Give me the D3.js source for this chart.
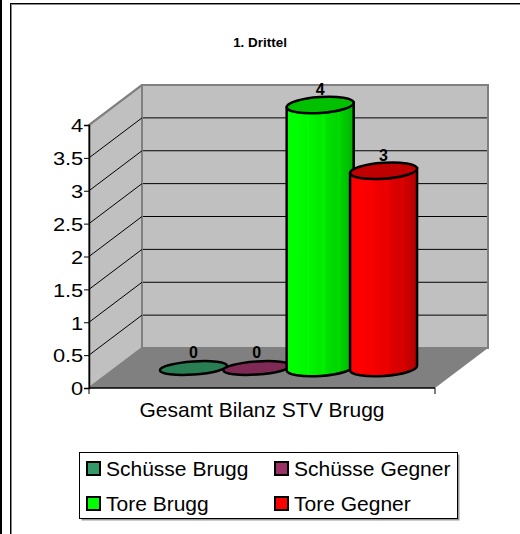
<!DOCTYPE html>
<html>
<head>
<meta charset="utf-8">
<script src="https://cdn.jsdelivr.net/npm/d3@7"></script>
<style>
  body { margin: 0; background: #fff; }
  text { font-family: "Liberation Sans", Arial, sans-serif; }
</style>
</head>
<body>
<div id="chart"></div>
<script>
let width = 520, height = 534;

let categories = ["Gesamt Bilanz STV Brugg"];
let seriesNames = ["Schüsse Brugg", "Schüsse Gegner", "Tore Brugg", "Tore Gegner"];
let seriesValues = [0, 0, 4, 3];
let seriesColors = ["#339966", "#993366", "#00ff00", "#ff0000"];
let yTicks = [0, 0.5, 1, 1.5, 2, 2.5, 3, 3.5, 4];

// depth of the 3d box (back wall offset)
let depthX = 53, depthY = -40;
let tilt = 4; // ellipses lean a little

let y = d3.scaleLinear().domain([0, 4]).range([388, 125]);
let x0 = d3.scaleBand().domain(categories).range([89, 435]);
let x1 = d3.scaleBand().domain(seriesNames)
    .range([0, x0.bandwidth()])
    .paddingInner(0)
    .paddingOuter(0.73);

let svg = d3.select("#chart").append("svg")
    .attr("width", width)
    .attr("height", height);

let defs = svg.append("defs");

// outer frame
svg.append("rect").attr("x", 0).attr("y", 0).attr("width", 2).attr("height", height).attr("fill", "#000");
svg.append("rect").attr("x", 11.5).attr("y", 4.5).attr("width", 600).attr("height", 600)
    .attr("fill", "none").attr("stroke", "#888").attr("stroke-width", 1);
svg.append("rect").attr("x", 10.5).attr("y", 3.5).attr("width", 600).attr("height", 600)
    .attr("fill", "none").attr("stroke", "#000").attr("stroke-width", 1);

// title
svg.append("text")
    .attr("transform", "translate(260,47) scale(1.12,1)")
    .attr("text-anchor", "middle")
    .attr("font-size", 12)
    .attr("font-weight", "bold")
    .text("1. Drittel");

let left = x0.range()[0], right = x0.range()[1];
let y0 = y(0), yTop = y(4);

// floor
svg.append("path")
    .attr("d", `M${left},${y0} L${right},${y0} L${right + depthX},${y0 + depthY} L${left + depthX},${y0 + depthY} Z`)
    .attr("fill", "#808080");

// side wall
svg.append("path")
    .attr("d", `M${left},${y0} L${left},${yTop} L${left + depthX},${yTop + depthY} L${left + depthX},${y0 + depthY} Z`)
    .attr("fill", "#c0c0c0")
    .attr("stroke", "#808080")
    .attr("stroke-width", 2)
    .attr("stroke-linejoin", "round");

// back wall
svg.append("rect")
    .attr("x", left + depthX)
    .attr("y", yTop + depthY)
    .attr("width", right - left)
    .attr("height", y0 - yTop)
    .attr("fill", "#c0c0c0")
    .attr("stroke", "#808080")
    .attr("stroke-width", 2);

// gridlines on back and side walls
let grid = yTicks.filter(d => d > 0);
svg.selectAll(".gridBack").data(grid).enter().append("line")
    .attr("x1", left + depthX + 1).attr("x2", right + depthX - 1)
    .attr("y1", d => y(d) + depthY).attr("y2", d => y(d) + depthY)
    .attr("stroke", d => d == 4 ? "none" : "#000").attr("stroke-width", 1);
svg.selectAll(".gridSide").data(grid).enter().append("line")
    .attr("x1", left).attr("x2", left + depthX)
    .attr("y1", d => y(d)).attr("y2", d => y(d) + depthY)
    .attr("stroke", d => d == 4 ? "#808080" : "#000").attr("stroke-width", d => d == 4 ? 2 : 1);

// floor front edge
svg.append("line").attr("x1", left).attr("x2", right).attr("y1", y0).attr("y2", y0)
    .attr("stroke", "#000").attr("stroke-width", 1.5);
svg.selectAll(".xtick").data([left, right]).enter().append("line")
    .attr("x1", d => d).attr("x2", d => d).attr("y1", y0).attr("y2", y0 + 6)
    .attr("stroke", "#000");

// y axis
let yAxis = svg.append("g")
    .attr("transform", `translate(${left},0)`)
    .call(d3.axisLeft(y).tickValues(yTicks).tickSize(5).tickFormat(d => String(d)));
yAxis.select(".domain").attr("stroke", "#000").attr("stroke-width", 1.5);
yAxis.selectAll(".tick line").attr("stroke", "#000");
yAxis.selectAll(".tick text")
    .attr("font-family", "Liberation Sans, Arial, sans-serif")
    .attr("font-size", 19)
    .attr("fill", "#000")
    .attr("x", -5)
    .attr("dy", "0.36em")
    .attr("transform", "scale(1.15,1)");

// category label
svg.selectAll(".catLabel").data(categories).enter().append("text")
    .attr("x", d => x0(d) + x0.bandwidth() / 2)
    .attr("y", 417)
    .attr("text-anchor", "middle")
    .attr("font-size", 21)
    .text(d => d);

// cylinders
let rad = x1.step() * 0.53, ry = 8;
let a = tilt * Math.PI / 180;

let bars = seriesNames.map((s, i) => ({
    name: s,
    value: seriesValues[i],
    color: seriesColors[i],
    cx: x0(categories[0]) + x1(s) + x1.bandwidth() / 2 + depthX / 2
}));

bars.forEach((b, i) => {
    let grad = defs.append("linearGradient").attr("id", "g" + i)
        .attr("x1", 0).attr("x2", 1).attr("y1", 0).attr("y2", 0);
    let c = d3.color(b.color);
    let stops = [[0, c.brighter(0.15)], [0.1, c], [0.12, c.brighter(0.25)], [0.14, c],
                 [0.3, c.darker(0.1)], [0.32, c.brighter(0.1)], [0.34, c.darker(0.1)],
                 [0.5, c.darker(0.25)], [0.55, c.darker(0.15)], [0.6, c.darker(0.35)],
                 [0.75, c.darker(0.5)], [0.78, c.darker(0.35)], [0.8, c.darker(0.55)],
                 [1, c.darker(1)]];
    stops.forEach(s => grad.append("stop").attr("offset", s[0]).attr("stop-color", s[1]));
});

let cyl = svg.selectAll(".cyl").data(bars).enter().append("g").attr("class", "cyl");

cyl.each(function(b, i) {
    let g = d3.select(this);
    let yb = y(0) + depthY / 2;
    let yt = y(b.value) + depthY / 2;
    let dx = rad * Math.cos(a), dy = rad * Math.sin(a);
    if (b.value > 0) {
        g.append("path")
            .attr("d", `M${b.cx - dx},${yt + dy} L${b.cx - dx},${yb + dy} A${rad},${ry} ${-tilt} 0 0 ${b.cx + dx},${yb - dy} L${b.cx + dx},${yt - dy} Z`)
            .attr("fill", `url(#g${i})`)
            .attr("stroke", "#000")
            .attr("stroke-width", 2.5);
    }
    g.append("ellipse")
        .attr("transform", `translate(${b.cx},${yt}) rotate(${-tilt})`)
        .attr("rx", rad).attr("ry", b.value > 0 ? ry : 6.5)
        .attr("fill", d3.color(b.color).darker(b.value > 0 ? 0.8 : 0.55))
        .attr("stroke", "#000")
        .attr("stroke-width", 2.5);
    g.append("text")
        .attr("x", b.cx)
        .attr("y", yt - 10)
        .attr("text-anchor", "middle")
        .attr("font-size", 16)
        .attr("font-weight", "bold")
        .text(b.value);
});

// legend
let legX = 79.5, legY = 452.5, legW = 378, legH = 66;
svg.append("rect").attr("x", legX + 2).attr("y", legY + 2).attr("width", legW).attr("height", legH)
    .attr("fill", "#999");
svg.append("rect").attr("x", legX).attr("y", legY).attr("width", legW).attr("height", legH)
    .attr("fill", "#fff").attr("stroke", "#000").attr("stroke-width", 1);

let legend = svg.selectAll(".leg").data(bars).enter().append("g")
    .attr("transform", (d, i) => `translate(${i % 2 == 0 ? 87 : 275},${i < 2 ? 462 : 497})`);
legend.append("rect")
    .attr("width", 13).attr("height", 13)
    .attr("fill", d => d.color)
    .attr("stroke", "#000").attr("stroke-width", 2);
legend.append("text")
    .attr("x", 19).attr("y", 14)
    .attr("font-size", 21)
    .text(d => d.name);
</script>
</body>
</html>
